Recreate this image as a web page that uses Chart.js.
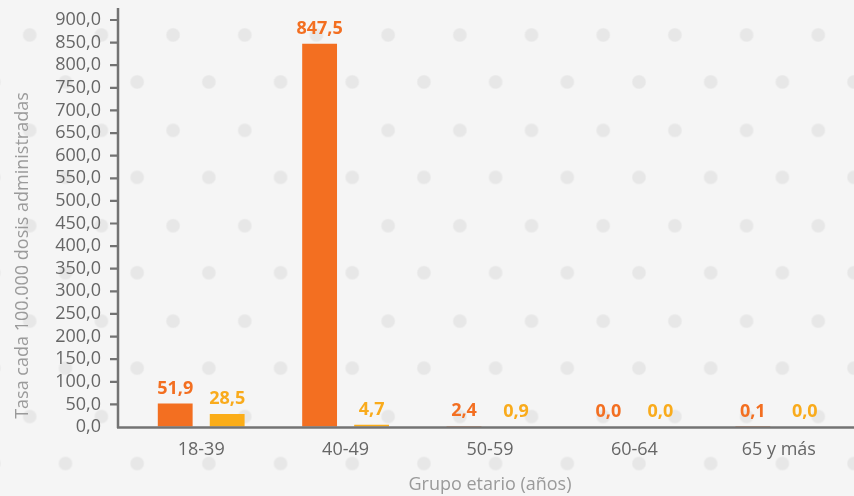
<!DOCTYPE html>
<html>
<head>
<meta charset="utf-8">
<script src="https://cdn.jsdelivr.net/npm/chart.js@4.4.1/dist/chart.umd.min.js"></script>
<style>
html,body{margin:0;padding:0;}
body{
  width:854px;height:496px;overflow:hidden;
  background-color:#f5f5f5;
  background-image:
    radial-gradient(circle, #e7e7e7 0, #e7e7e7 6px, rgba(231,231,231,0) 7.5px),
    radial-gradient(circle, #e7e7e7 0, #e7e7e7 6px, rgba(231,231,231,0) 7.5px);
  background-size:71.7px 95.4px;
  background-position:29.65px 34.3px, -6.15px -12.7px;
}
#wrap{position:relative;width:854px;height:496px;}
canvas{display:block;}
</style>
</head>
<body>
<div id="wrap"><canvas id="c" width="854" height="496" style="width:854px;height:496px"></canvas></div>
<script>
// ---- data ----
const categories = ['18-39', '40-49', '50-59', '60-64', '65 y más'];
const seriesA = [51.9, 847.5, 2.4, 0.0, 0.1];
const seriesB = [28.5, 4.7, 0.9, 0.0, 0.0];
const yTicks = [0, 50, 100, 150, 200, 250, 300, 350, 400, 450, 500, 550, 600, 650, 700, 750, 800, 850, 900];
const yTitle = 'Tasa cada 100.000 dosis administradas';
const xTitle = 'Grupo etario (años)';

// ---- style ----
const ORANGE = '#f36f21';
const YELLOW = '#fbad18';
const AXIS = '#737373';
const TICK_TEXT = '#666666';
const TITLE_TEXT = '#9a9a9a';
const FONT = '"Open Sans", "Noto Sans", sans-serif';
const AXIS_GAP = 11;

const fmt = v => v.toFixed(1).replace('.', ',');

const axesPlugin = {
  id: 'axesPlugin',
  afterDatasetsDraw(chart) {
    const { ctx, chartArea, scales } = chart;
    const y = scales.y;
    const ax = chartArea.left - AXIS_GAP;
    const y0 = y.getPixelForValue(0);
    ctx.save();
    ctx.strokeStyle = AXIS;
    // x axis line
    ctx.lineWidth = 2.7;
    ctx.beginPath();
    ctx.moveTo(ax - 1, y0 + 0.5);
    ctx.lineTo(chart.width, y0 + 0.5);
    ctx.stroke();
    // y axis line
    ctx.lineWidth = 2.5;
    ctx.beginPath();
    ctx.moveTo(ax, y.getPixelForValue(yTicks[yTicks.length - 1]) - 12);
    ctx.lineTo(ax, y0 + 1);
    ctx.stroke();
    // y tick marks
    ctx.lineWidth = 2.2;
    ctx.beginPath();
    y.ticks.forEach(t => {
      if (t.value === 0) return;
      const py = y.getPixelForValue(t.value);
      ctx.moveTo(ax - 8, py);
      ctx.lineTo(ax, py);
    });
    ctx.stroke();
    // y title
    ctx.fillStyle = TITLE_TEXT;
    ctx.font = '18px ' + FONT;
    ctx.textAlign = 'center';
    ctx.textBaseline = 'middle';
    ctx.translate(23, (y.top + y0) / 2 + 32);
    ctx.rotate(-Math.PI / 2);
    ctx.fillText(yTitle, 0, 0);
    ctx.restore();
  }
};

const valueLabels = {
  id: 'valueLabels',
  afterDatasetsDraw(chart) {
    const ctx = chart.ctx;
    ctx.save();
    ctx.font = 'bold 18px ' + FONT;
    ctx.textAlign = 'center';
    ctx.textBaseline = 'alphabetic';
    chart.data.datasets.forEach((ds, i) => {
      const meta = chart.getDatasetMeta(i);
      meta.data.forEach((bar, j) => {
        ctx.fillStyle = ds.labelColor;
        ctx.fillText(fmt(ds.data[j]), bar.x, bar.y - 10);
      });
    });
    ctx.restore();
  }
};

new Chart(document.getElementById('c'), {
  type: 'bar',
  data: {
    labels: categories,
    datasets: [
      { label: 'Serie 1', data: seriesA, backgroundColor: ORANGE, labelColor: ORANGE,
        barPercentage: 0.67, categoryPercentage: 0.72 },
      { label: 'Serie 2', data: seriesB, backgroundColor: YELLOW, labelColor: '#f9ab1c',
        barPercentage: 0.67, categoryPercentage: 0.72 }
    ]
  },
  options: {
    responsive: false,
    maintainAspectRatio: false,
    animation: false,
    devicePixelRatio: 1,
    layout: { padding: { top: 20, right: 3, left: 0, bottom: 0 } },
    plugins: { legend: { display: false }, tooltip: { enabled: false } },
    scales: {
      x: {
        grid: { display: false, drawTicks: false },
        border: { display: false },
        ticks: { color: TICK_TEXT, font: { family: FONT, size: 18 }, padding: 12,
                 maxRotation: 0, minRotation: 0, autoSkip: false },
        title: { display: true, text: xTitle, color: TITLE_TEXT,
                 font: { family: FONT, size: 18 }, padding: { top: 0, bottom: 0 } },
        afterFit: s => { s.height = 69; }
      },
      y: {
        min: 0, max: 900,
        grid: { display: true, drawOnChartArea: false, drawTicks: true, tickLength: 28,
                color: 'rgba(0,0,0,0)', tickColor: 'rgba(0,0,0,0)' },
        border: { display: false },
        afterBuildTicks: s => { s.ticks = yTicks.map(v => ({ value: v })); },
        ticks: { color: TICK_TEXT, font: { family: FONT, size: 18 }, padding: 0,
                 autoSkip: false, callback: v => fmt(v) },
        afterFit: s => { s.width = 129; }
      }
    }
  },
  plugins: [axesPlugin, valueLabels]
});
</script>
</body>
</html>
